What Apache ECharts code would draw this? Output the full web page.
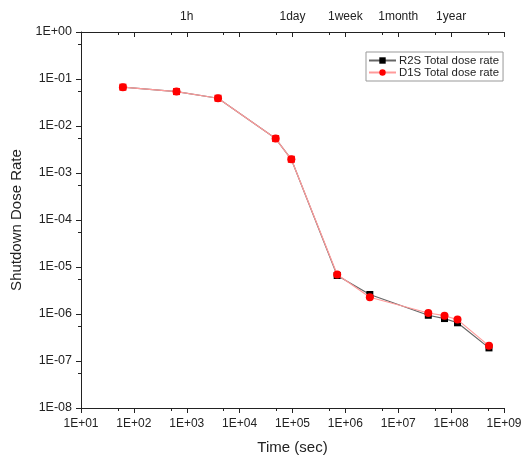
<!DOCTYPE html>
<html>
<head>
<meta charset="utf-8">
<script src="https://cdn.jsdelivr.net/npm/echarts@6/dist/echarts.min.js"></script>
<style>
html,body{margin:0;padding:0;background:#fff;}
#c{width:527px;height:457px;}
</style>
</head>
<body>
<div id="c"></div>
<script>
// ---- data ----
var timeSec = [62, 640, 3900, 48000, 95000, 7.0e5, 2.9e6, 3.7e7, 7.5e7, 1.32e8, 5.2e8];
var r2sDose = [0.067, 0.054, 0.039, 0.0054, 0.00196, 6.6e-6, 2.6e-6, 9.4e-7, 8.0e-7, 6.5e-7, 1.9e-7];
var d1sDose = [0.067, 0.054, 0.039, 0.0054, 0.00196, 6.9e-6, 2.27e-6, 1.05e-6, 9.2e-7, 7.6e-7, 2.1e-7];
var xMajorTicks = [1e1, 1e2, 1e3, 1e4, 1e5, 1e6, 1e7, 1e8, 1e9];
var xMinorTicks = [5e1, 5e2, 5e3, 5e4, 5e5, 5e6, 5e7, 5e8];
var yMajorTicks = [1e-8, 1e-7, 1e-6, 1e-5, 1e-4, 1e-3, 1e-2, 1e-1, 1];
var yMinorTicks = [5.6e-8, 5.6e-7, 5.6e-6, 5.6e-5, 5.6e-4, 5.6e-3, 5.6e-2, 5.6e-1];
var topTickValues = [1e3, 1e5, 1e6, 1e7, 1e8];
var topTickLabels = ['1h', '1day', '1week', '1month', '1year'];
var seriesNames = ['R2S Total dose rate', 'D1S Total dose rate'];

function sci(v) {
  var e = Math.round(Math.log10(v));
  var s = e < 0 ? '-' : '+';
  var a = Math.abs(e);
  return '1E' + s + (a < 10 ? '0' + a : '' + a);
}
function topLabel(v) {
  var e = Math.round(Math.log10(v));
  for (var i = 0; i < topTickValues.length; i++) {
    if (Math.round(Math.log10(topTickValues[i])) === e) return topTickLabels[i];
  }
  return '';
}

var FONT = 'Liberation Sans, Arial, sans-serif';
var grid = {left: 81, right: 23, top: 32, bottom: 49, containLabel: false, outerBoundsMode: 'none'};
var lineStyleAx = {color: '#222', width: 1};

var r2sData = timeSec.map(function (t, i) {
  var d = [t, r2sDose[i]];
  return i < 5 ? {value: d, itemStyle: {color: '#ff0000'}} : d;
});
var d1sData = timeSec.map(function (t, i) { return [t, d1sDose[i]]; });

var chart = echarts.init(document.getElementById('c'), null, {renderer: 'canvas'});
chart.setOption({
  animation: false,
  backgroundColor: '#fff',
  textStyle: {fontFamily: FONT},
  grid: [Object.assign({}, grid), Object.assign({}, grid)],
  legend: {
    orient: 'vertical',
    left: 366, top: 52,
    padding: [3, 4, 3, 2],
    itemGap: 1,
    itemWidth: 27, itemHeight: 8,
    borderColor: '#999', borderWidth: 1,
    textStyle: {fontSize: 11.4, color: '#222', fontFamily: FONT, padding: [0, 0, 0, -2]},
    data: seriesNames
  },
  xAxis: [
    {
      type: 'log', gridIndex: 0, position: 'bottom', min: 10, max: 1e9,
      name: 'Time (sec)', nameLocation: 'middle', nameGap: 32,
      nameTextStyle: {fontSize: 15, color: '#222', fontFamily: FONT},
      axisLine: {show: true, lineStyle: lineStyleAx},
      axisTick: {show: true, inside: false, length: 5, lineStyle: lineStyleAx, customValues: xMajorTicks},
      axisLabel: {fontSize: 12, color: '#222', margin: 10, formatter: sci, customValues: xMajorTicks, showMinLabel: true, showMaxLabel: true},
      splitLine: {show: false}
    },
    {
      type: 'log', gridIndex: 0, position: 'top', min: 10, max: 1e9,
      axisLine: {show: true, lineStyle: lineStyleAx},
      axisTick: {show: true, inside: true, length: 5, lineStyle: lineStyleAx, customValues: xMajorTicks},
      axisLabel: {fontSize: 12, color: '#222', margin: 9, formatter: topLabel, customValues: xMajorTicks},
      splitLine: {show: false}
    },
    {
      type: 'log', gridIndex: 1, position: 'bottom', min: 10, max: 1e9,
      axisLine: {show: false},
      axisTick: {show: true, inside: false, length: 3, lineStyle: lineStyleAx, customValues: xMinorTicks},
      axisLabel: {show: false},
      splitLine: {show: false}
    },
    {
      type: 'log', gridIndex: 1, position: 'top', min: 10, max: 1e9,
      axisLine: {show: false},
      axisTick: {show: true, inside: true, length: 3, lineStyle: lineStyleAx, customValues: xMinorTicks},
      axisLabel: {show: false},
      splitLine: {show: false}
    }
  ],
  yAxis: [
    {
      type: 'log', gridIndex: 0, position: 'left', min: 1e-8, max: 1,
      name: 'Shutdown Dose Rate', nameLocation: 'middle', nameGap: 52,
      nameTextStyle: {fontSize: 15, color: '#222', fontFamily: FONT},
      axisLine: {show: true, lineStyle: lineStyleAx},
      axisTick: {show: true, inside: false, length: 5, lineStyle: lineStyleAx, customValues: yMajorTicks},
      axisLabel: {fontSize: 12.5, color: '#222', margin: 9, formatter: sci, customValues: yMajorTicks},
      splitLine: {show: false}
    },
    {
      type: 'log', gridIndex: 1, position: 'left', min: 1e-8, max: 1,
      axisLine: {show: false},
      axisTick: {show: true, inside: false, length: 3, lineStyle: lineStyleAx, customValues: yMinorTicks},
      axisLabel: {show: false},
      splitLine: {show: false}
    }
  ],
  series: [
    {
      name: seriesNames[0], type: 'line', xAxisIndex: 0, yAxisIndex: 0,
      data: r2sData,
      symbol: 'rect', symbolSize: 7, showAllSymbol: true,
      itemStyle: {color: '#000'},
      lineStyle: {color: '#666', width: 1.2},
      z: 2
    },
    {
      name: seriesNames[1], type: 'line', xAxisIndex: 0, yAxisIndex: 0,
      data: d1sData,
      symbol: 'circle', symbolSize: 8, showAllSymbol: true,
      itemStyle: {color: '#ff0000'},
      lineStyle: {color: '#ff9a9a', width: 1.2},
      z: 3
    }
  ]
});
</script>
</body>
</html>
